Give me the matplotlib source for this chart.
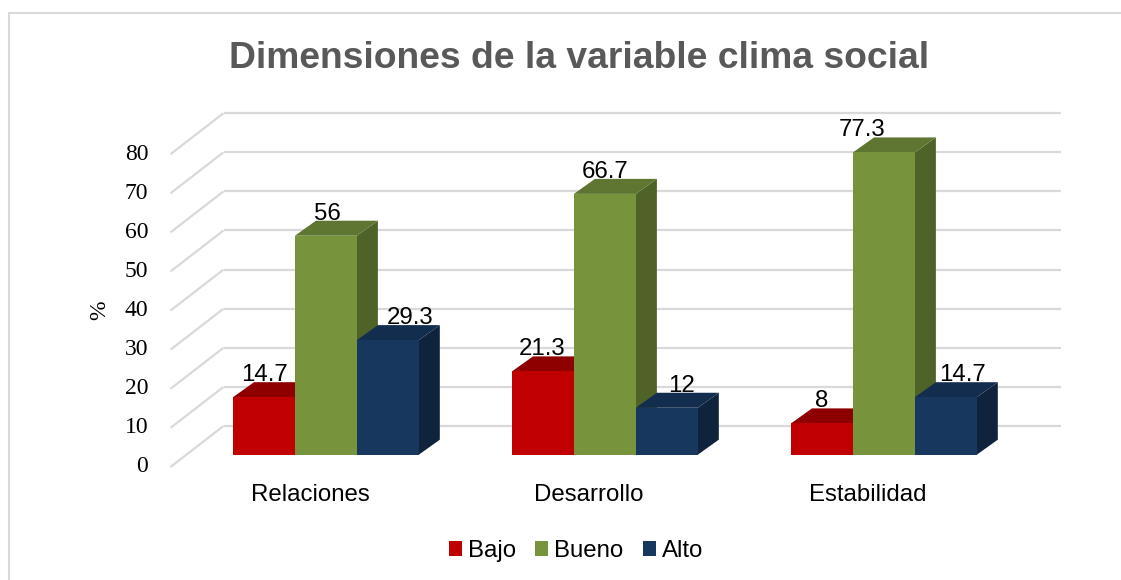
import matplotlib
matplotlib.use("Agg")
import matplotlib.pyplot as plt
from matplotlib.patches import Polygon, Rectangle, Patch

# ---------------- data ----------------
categories = ["Relaciones", "Desarrollo", "Estabilidad"]
series_names = ["Bajo", "Bueno", "Alto"]
bajo = [14.7, 21.3, 8]
bueno = [56, 66.7, 77.3]
alto = [29.3, 12, 14.7]
y_ticks = [0, 10, 20, 30, 40, 50, 60, 70, 80]
title = "Dimensiones de la variable clima social"
y_label = "%"

# ---------------- style ----------------
front_colors = ["#C00000", "#77933C", "#17375E"]
top_colors = ["#8E0000", "#5E7631", "#132D4E"]
side_colors = ["#7A0000", "#4F6228", "#0F233D"]
grid_color = "#D9D9D9"
title_color = "#595959"
sans = "Liberation Sans"
serif = "Liberation Serif"
fs = 17.3

W, H = 1121, 580
fig = plt.figure(figsize=(W / 100, H / 100), dpi=100)
ax = fig.add_axes([140 / W, 100 / H, 930 / W, 380 / H])
ax.set_xlim(-0.6093, 2.724)
ax.set_ylim(-3.325, 93.86)
ax.axis("off")

# 3D projection parameters (data units)
DX, DV = 0.19, 10.49          # full floor depth
FZ = 0.3                      # bar front plane depth fraction
BDX, BDV = 0.0753, 3.84       # bar depth
bar_w = 0.222
x_left, x_right = -0.5, 2.5

# gridlines: left wall + back wall
for v in y_ticks:
    ax.plot([x_left, x_left + DX], [v, v + DV], color=grid_color, lw=1.6,
            zorder=1, solid_capstyle="butt")
    ax.plot([x_left + DX, x_right + DX], [v + DV, v + DV], color=grid_color,
            lw=1.6, zorder=1, solid_capstyle="butt")
    ax.annotate(f"{v}", xy=(x_left, v), xytext=(-16, 0),
                textcoords="offset points", ha="right", va="center",
                fontsize=17, family=serif, color="black")

ax.annotate(y_label, xy=(x_left, 40), xytext=(-51, 0),
            textcoords="offset points", ha="center", va="center",
            rotation=90, fontsize=17, family=serif)

series = [bajo, bueno, alto]
# label nudges in px (style only)
label_dx = [[1, 1, 22], [-1, 0, 15], [0, -22, 17]]
px2pt = 0.72

for i, cat in enumerate(categories):
    for j, vals in enumerate(series):
        h = vals[i]
        xc = i + (j - 1) * bar_w + FZ * DX
        y0 = FZ * DV
        x0, x1 = xc - bar_w / 2, xc + bar_w / 2
        z = 10 + i * 10 + j * 3
        # side face
        side = Polygon([(x1, y0), (x1 + BDX, y0 + BDV), (x1 + BDX, y0 + h + BDV),
                        (x1, y0 + h)], closed=True, facecolor=side_colors[j],
                       edgecolor="none", zorder=z)
        ax.add_patch(side)
        # top face
        top = Polygon([(x0, y0 + h), (x1, y0 + h), (x1 + BDX, y0 + h + BDV),
                       (x0 + BDX, y0 + h + BDV)], closed=True,
                      facecolor=top_colors[j], edgecolor="none", zorder=z + 1)
        ax.add_patch(top)
        # front face
        ax.bar(xc, h, width=bar_w, bottom=y0, color=front_colors[j],
               edgecolor="none", zorder=z + 2)
        # value label
        ax.annotate(f"{h:g}", xy=(xc, y0 + h + BDV),
                    xytext=(label_dx[i][j] * px2pt, 1 * px2pt),
                    textcoords="offset points", ha="center", va="baseline",
                    fontsize=fs, family=sans, color="black", zorder=50)
    ax.annotate(cat, xy=(i, 0), xytext=(0, -28 * px2pt),
                textcoords="offset points", ha="center", va="center",
                fontsize=fs, family=sans, color="black")

# title
fig.text(579 / W, 1 - 59 / H, title, ha="center", va="center",
         fontsize=26.8, fontweight="bold", family=sans, color=title_color)

# legend
handles = [Patch(facecolor=c, edgecolor="none") for c in front_colors]
leg = fig.legend(handles, series_names, loc="center",
                 bbox_to_anchor=(576 / W, 1 - 551 / H), ncol=3, frameon=False,
                 prop={"family": sans, "size": fs}, handlelength=0.55,
                 handleheight=0.55, handletextpad=0.25, columnspacing=0.8)

# chart border
fig.add_artist(Rectangle((8.5 / W, -0.1), 1.2, 1.1 - 12.5 / H,
                         transform=fig.transFigure, fill=False,
                         edgecolor=grid_color, lw=1.5))

fig.savefig("out.png", dpi=100, facecolor="white")
